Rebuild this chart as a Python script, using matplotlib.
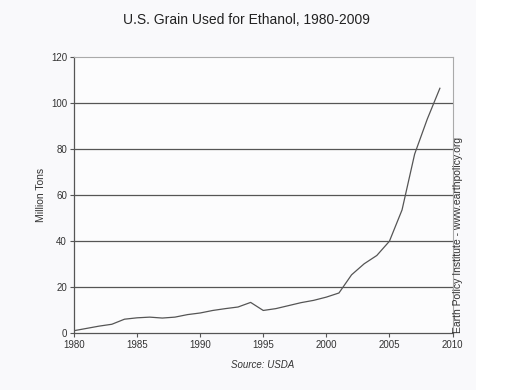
import matplotlib
matplotlib.use("Agg")
import matplotlib.pyplot as plt
from matplotlib.patches import Rectangle

years = list(range(1980, 2010))
grain = [1.0, 2.0, 3.0, 3.8, 6.0, 6.6, 6.9, 6.5, 6.9, 8.0,
         8.7, 9.8, 10.6, 11.3, 13.3, 9.8, 10.6, 11.9, 13.2, 14.2,
         15.6, 17.4, 25.3, 30.1, 33.7, 39.9, 53.5, 77.8, 93.0, 106.4]
xticks = [1980, 1985, 1990, 1995, 2000, 2005, 2010]
yticks = [0, 20, 40, 60, 80, 100, 120]

plt.rcParams['font.family'] = ['Liberation Sans', 'DejaVu Sans']
txt = '#333333'

fig = plt.figure(figsize=(5.31, 3.90), dpi=100, facecolor='white')
fig.patches.append(Rectangle((0, 0), 476/531, 1, transform=fig.transFigure,
                             facecolor='#f9f9fb', edgecolor='none', zorder=-10))
ax = fig.add_axes([74/531, 1 - 333/390, (452.5 - 74)/531, (333 - 57)/390])
ax.set_facecolor('#fcfcfd')

ax.plot(years, grain, color='#555555', lw=0.9, zorder=3)

ax.set_xlim(1980, 2010)
ax.set_ylim(0, 120)
ax.set_xticks(xticks)
ax.set_yticks(yticks)
for y in yticks[1:-1]:
    ax.axhline(y, color='#555555', lw=0.9, zorder=1)

for s in ['top', 'right']:
    ax.spines[s].set_color('#aaaaaa')
    ax.spines[s].set_linewidth(0.8)
for s in ['left', 'bottom']:
    ax.spines[s].set_color('#555555')
    ax.spines[s].set_linewidth(0.9)

ax.tick_params(axis='both', direction='out', length=3, width=0.8,
               color='#555555', labelsize=7, labelcolor=txt, pad=2)

ax.set_ylabel('Million Tons', fontsize=7.5, color=txt)
ax.yaxis.set_label_coords((46 - 74) / (452.5 - 74), 0.5)
fig.text(246/531, 1 - 20/390, 'U.S. Grain Used for Ethanol, 1980-2009',
         ha='center', va='center', fontsize=10, color='#222222')
fig.text(263/531, 1 - 365/390, 'Source: USDA', ha='center', va='center',
         fontsize=7, style='italic', color=txt)
fig.text(458/531, 1 - 235/390, 'Earth Policy Institute - www.earthpolicy.org',
         ha='center', va='center', rotation=90, fontsize=7.5, color=txt)

fig.savefig('out.png', dpi=100, facecolor=fig.get_facecolor())
